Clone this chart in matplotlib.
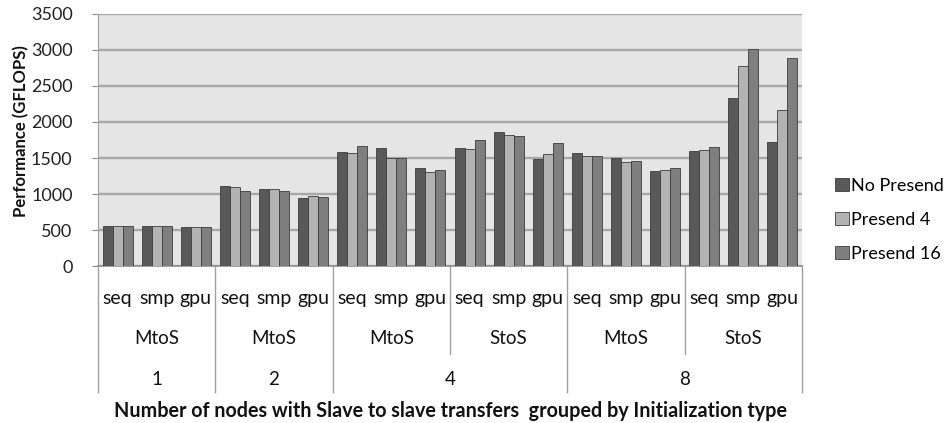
import matplotlib

matplotlib.use("Agg")
import matplotlib.pyplot as plt
import matplotlib.transforms as mtransforms
from matplotlib.lines import Line2D
from matplotlib.patches import Patch
import numpy as np

plt.rcParams["font.family"] = ["Lato", "DejaVu Sans"]

modes = ["seq", "smp", "gpu"]
init_labels = ["MtoS", "MtoS", "MtoS", "StoS", "MtoS", "StoS"]
node_labels = ["1", "2", "4", "8"]
node_spans = [1, 1, 2, 2]  # init groups per node count

series = ["No Presend", "Presend 4", "Presend 16"]
no_presend = [550, 550, 540, 1110, 1070, 950, 1590, 1645, 1355,
              1635, 1855, 1480, 1570, 1495, 1325, 1600, 2330, 1720]
presend_4 = [550, 550, 540, 1100, 1075, 975, 1570, 1505, 1305,
             1630, 1820, 1560, 1525, 1440, 1330, 1605, 2780, 2165]
presend_16 = [550, 550, 540, 1045, 1045, 955, 1660, 1505, 1340,
              1755, 1810, 1710, 1525, 1455, 1365, 1650, 3020, 2890]
colors = ["#595959", "#b3b3b3", "#7f7f7f"]

W, H = 951, 423
fig = plt.figure(figsize=(W / 100, H / 100), dpi=100)
ax = fig.add_axes([98 / W, 1 - 266 / H, (802 - 98) / W, (266 - 14) / H])
ax.set_facecolor("#e5e5e5")

n = len(no_presend)
x = np.arange(n) + 0.5
width = 0.255
for k, (vals, col) in enumerate(zip([no_presend, presend_4, presend_16], colors)):
    ax.bar(x + (k - 1) * width, vals, width, color=col, edgecolor="#3c3c3c",
           linewidth=0.6, zorder=3)

ax.set_xlim(0, n)
ax.set_ylim(0, 3500)
ax.set_yticks(range(0, 3501, 500))
ax.yaxis.grid(True, color="#a8a8a8", linewidth=1.7, zorder=0)
ax.tick_params(axis="y", labelsize=13, length=4.3, color="#909090", pad=14,
               labelcolor="#222222")
ax.set_xticks(x)
ax.set_xticklabels([])
ax.tick_params(axis="x", length=0)
for s in ["top", "right"]:
    ax.spines[s].set_visible(False)
ax.spines["left"].set_color("#a0a0a0")
ax.spines["bottom"].set_color("#909090")
ax.spines["bottom"].set_linewidth(1.2)

trans = mtransforms.blended_transform_factory(ax.transData, fig.transFigure)


def fy(py):
    return 1 - py / H


fig.text(21 / W, fy(131), "Performance (GFLOPS)", rotation=90, ha="center",
         va="center", fontsize=12, fontweight="bold", color="#111111")

# mode row
for i in range(n):
    ax.text(x[i], fy(298), modes[i % 3], transform=trans, ha="center",
            va="center", fontsize=14, color="#111111")

# init-type row and separators
for g, lab in enumerate(init_labels):
    ax.text(g * 3 + 1.5, fy(338), lab, transform=trans, ha="center",
            va="center", fontsize=13.5, color="#111111")

node_edges = np.concatenate([[0], np.cumsum(node_spans) * 3])
for b in range(0, n + 1, 3):
    bottom = 392 if b in node_edges else 354
    ax.add_line(Line2D([b, b], [fy(266), fy(bottom)], transform=trans,
                       color="#a0a0a0", linewidth=1.0, clip_on=False))

for lab, a, b in zip(node_labels, node_edges[:-1], node_edges[1:]):
    ax.text((a + b) / 2, fy(379), lab, transform=trans, ha="center",
            va="center", fontsize=13.5, color="#111111")

fig.text(450 / W, fy(411), "Number of nodes with Slave to slave transfers  grouped by Initialization type",
         ha="center", va="center", fontsize=14.2, fontweight="bold", color="#111111")

handles = [Patch(facecolor=c, edgecolor="#3c3c3c", linewidth=0.6) for c in colors]
fig.legend(handles, series, loc="center left", bbox_to_anchor=(826 / W, fy(220)),
           frameon=False, fontsize=13, handlelength=0.75, handleheight=0.75,
           handletextpad=0.15, labelspacing=1.0, borderpad=0)

fig.savefig("out.png", dpi=100, facecolor="white")
